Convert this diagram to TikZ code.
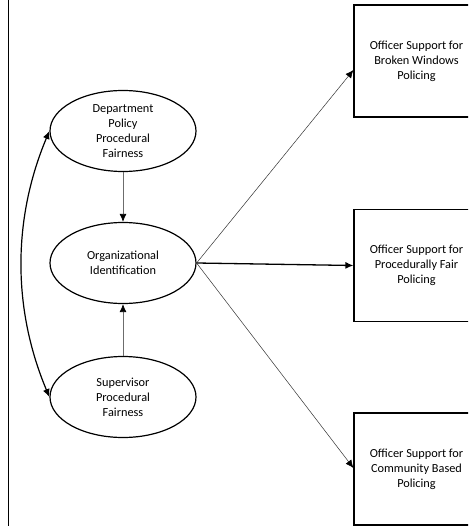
\documentclass[tikz,border=0pt]{standalone}
\usepackage{fontspec}
\setmainfont{Carlito}
\usetikzlibrary{shapes.geometric,arrows.meta}
\begin{document}
\begin{tikzpicture}[x=1pt,y=-1pt,
  every node/.style={font=\fontsize{12.3}{15}\selectfont, align=center},
  construct/.style={ellipse, draw=black, line width=1.2pt, minimum width=146pt, minimum height=81pt, inner sep=0pt},
  outcome/.style={rectangle, draw=black, line width=1.2pt, minimum width=125pt, minimum height=112pt, inner sep=0pt},
  tip/.style={-{Latex[length=8pt,width=7pt,black]}},
  grayarrow/.style={tip, draw=gray!85!black, line width=0.8pt},
  thinarrow/.style={tip, draw=black!80, line width=0.5pt},
  mainarrow/.style={tip, draw=black, line width=1.3pt},
  corr/.style={{Latex[length=8pt,width=7pt]}-{Latex[length=8pt,width=7pt]}, draw=black, line width=1.2pt}
]
\useasboundingbox (0,0) rectangle (468,526);
\clip (0,0) rectangle (468,526);

% frame line on the left
\coordinate (ftop) at (8,0);
\coordinate (fbot) at (8,526);
\draw[line width=0.9pt] (ftop) -- (fbot);

% latent constructs
\node[construct] (dept) at (123,131) {Department\\Policy\\Procedural\\Fairness};
\node[construct] (orgid) at (123,263) {Organizational\\Identification};
\node[construct] (sup) at (123,397) {Supervisor\\Procedural\\Fairness};

% outcome boxes
\node[outcome] (bw) at (416.5,61) {Officer Support for\\Broken Windows\\Policing};
\node[outcome] (pf) at (416.5,265.5) {Officer Support for\\Procedurally Fair\\Policing};
\node[outcome] (cb) at (416.5,469) {Officer Support for\\Community Based\\Policing};

% paths into organizational identification
\draw[grayarrow] (dept.south) -- (orgid.north);
\draw[grayarrow] (sup.north) -- (orgid.south);

% correlation between the two fairness constructs
\draw[corr] (dept.west) .. controls +(-37,88) and +(-37,-88) .. (sup.west);

% paths to the outcomes
\draw[thinarrow] (orgid.east) -- (bw.west |- 0,70);
\draw[mainarrow] (orgid.east) -- (pf.west);
\draw[thinarrow] (orgid.east) -- (cb.west |- 0,468);
\end{tikzpicture}
\end{document}
